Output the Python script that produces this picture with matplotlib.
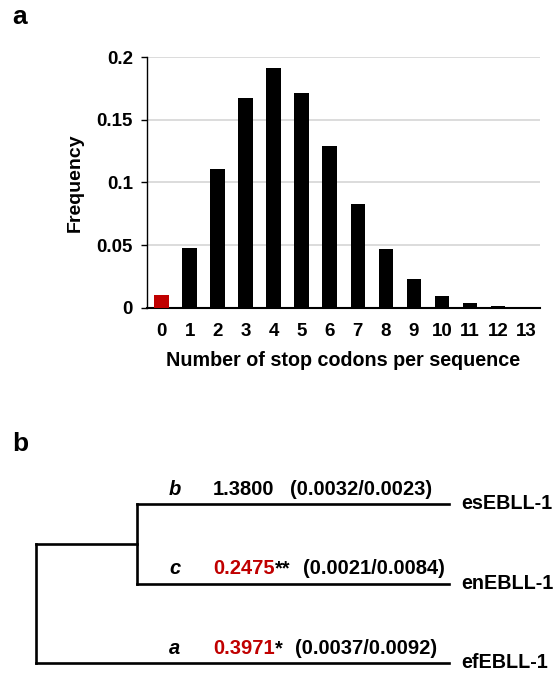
import numpy as np
import matplotlib.pyplot as plt

plt.rcParams['font.family'] = ['Liberation Sans', 'DejaVu Sans']
plt.rcParams['font.weight'] = 'bold'

# panel a data
stop_codons = list(range(14))
frequency = [0.010, 0.048, 0.111, 0.167, 0.191, 0.171, 0.129, 0.083,
             0.047, 0.0234, 0.0097, 0.0036, 0.0014, 0.0003]
bar_colors = ['#c00000'] + ['black'] * 13
y_ticks = [0, 0.05, 0.1, 0.15, 0.2]
y_tick_labels = ['0', '0.05', '0.1', '0.15', '0.2']

# panel b data (tree)
tip_names = ['esEBLL-1', 'enEBLL-1', 'efEBLL-1']
tip_depth = [4.09, 4.09, 4.09]
inner_depth = 1.0
branch_letters = ['b', 'c', 'a']
omega = ['1.3800', '0.2475', '0.3971']
omega_sig = ['', '**', '*']
omega_red = [False, True, True]
dn_ds = ['(0.0032/0.0023)', '(0.0021/0.0084)', '(0.0037/0.0092)']

W, H = 554, 673
fig = plt.figure(figsize=(W / 100, H / 100), dpi=100)

# ---- panel a ----
ax = fig.add_axes([147 / W, 1 - 308 / H, (540 - 147) / W, (308 - 57) / H])
ax.bar(stop_codons, frequency, width=0.52, color=bar_colors, zorder=3)
ax.set_xlim(-0.52, 13.5)
ax.set_ylim(0, 0.2)
ax.set_yticks(y_ticks)
ax.set_yticklabels(y_tick_labels)
ax.set_xticks(stop_codons)
ax.yaxis.grid(True, color='#d9d9d9', linewidth=1.3, zorder=0)
ax.set_axisbelow(True)
for s in ['top', 'right']:
    ax.spines[s].set_visible(False)
ax.spines['left'].set_linewidth(1.0)
ax.spines['bottom'].set_linewidth(1.5)
ax.tick_params(axis='y', length=4, width=1, labelsize=13.5, pad=6)
ax.tick_params(axis='x', length=0, labelsize=13.5, pad=11)
ax.set_ylabel('Frequency', fontsize=14, fontweight='bold', labelpad=9)
ax.set_xlabel('Number of stop codons per sequence', fontsize=14.2,
              fontweight='bold', labelpad=8)
for lab in ax.get_xticklabels() + ax.get_yticklabels():
    lab.set_fontweight('bold')
fig.text(20 / W, 1 - 17 / H, 'a', fontsize=19, fontweight='bold',
         ha='center', va='center')

# ---- panel b ----
top_pix = 410
ax2 = fig.add_axes([0, 0, 1, 1 - top_pix / H])
sx, sy = 101.0, 79.5
x0, y0 = 36, 504
ax2.set_xlim(-x0 / sx, (W - x0) / sx)
ax2.set_ylim((H - y0) / sy, (top_pix - y0) / sy)
ax2.axis('off')

tip_y = np.arange(len(tip_names))
inner_y = (tip_y[0] + tip_y[1]) / 2
lw = 1.9
kw = dict(color='black', linewidth=lw, solid_capstyle='projecting')
# inner node
ax2.plot([inner_depth, inner_depth], [tip_y[0], tip_y[1]], **kw)
ax2.plot([inner_depth, tip_depth[0]], [tip_y[0], tip_y[0]], **kw)
ax2.plot([inner_depth, tip_depth[1]], [tip_y[1], tip_y[1]], **kw)
# root
ax2.plot([0, 0], [inner_y, tip_y[2]], **kw)
ax2.plot([0, inner_depth], [inner_y, inner_y], **kw)
ax2.plot([0, tip_depth[2]], [tip_y[2], tip_y[2]], **kw)

fig.text(20 / W, 1 - 444 / H, 'b', fontsize=19, fontweight='bold',
         ha='center', va='center')

fs = 14.5
letter_x = (175 - x0) / sx
omega_x = (213 - x0) / sx
for i in range(len(tip_names)):
    ax2.annotate(tip_names[i], (tip_depth[i], tip_y[i]), xytext=(9, 0),
                 textcoords='offset points', ha='left', va='center',
                 fontsize=14.2, fontweight='bold')
    ax2.annotate(branch_letters[i], (letter_x, tip_y[i]), xytext=(0, 6.5),
                 textcoords='offset points', ha='center', va='baseline',
                 fontsize=fs, fontweight='bold', style='italic')
    t = ax2.annotate(omega[i], (omega_x, tip_y[i]), xytext=(0, 6.5),
                     textcoords='offset points', ha='left', va='baseline',
                     fontsize=fs, fontweight='bold',
                     color='#c00000' if omega_red[i] else 'black')
    gap = 11
    if omega_sig[i]:
        t = ax2.annotate(omega_sig[i], xy=(1, 0), xycoords=t,
                         ha='left', va='bottom', fontsize=fs,
                         fontweight='bold')
        gap = 9
    ax2.annotate(dn_ds[i], xy=(1, 0), xycoords=t, xytext=(gap, 0),
                 textcoords='offset points', ha='left', va='bottom',
                 fontsize=fs, fontweight='bold')

fig.savefig('out.png', dpi=100)
